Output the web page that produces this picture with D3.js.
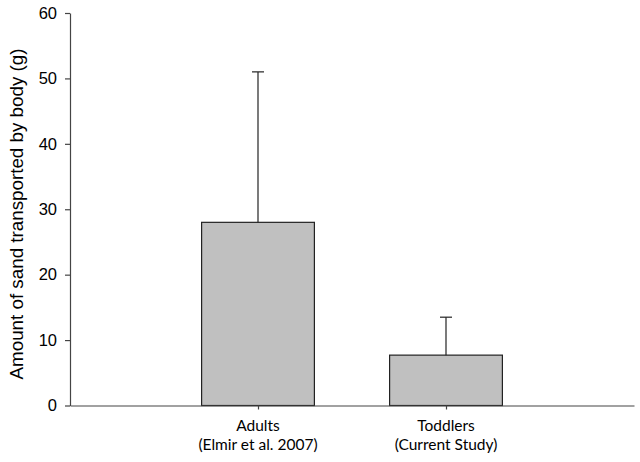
<!DOCTYPE html>
<head>
  <meta charset="utf-8">
  <script src="https://d3js.org/d3.v7.min.js"></script>
  <style>
    body { margin:0; background:#fff; }
    .tick text { font-family: "Liberation Sans", Arial, sans-serif; font-size:16.5px; fill:#000; }
    .cat { font-family: Lato, "Open Sans", sans-serif; font-size:15.5px; fill:#000; }
  </style>
</head>
<body>
<script>
  // data
  var groups = ["Adults", "Toddlers"];
  var subLabels = ["(Elmir et al. 2007)", "(Current Study)"];
  var means = [28, 7.7];
  var upperErr = [51, 13.5];
  var yTicks = [0, 10, 20, 30, 40, 50, 60];

  var W = 640, H = 462;
  var x0 = 70, x1 = 634, yTop = 13, yBot = 405.5;

  var svg = d3.select("body").append("svg")
    .attr("width", W)
    .attr("height", H);

  // point scale with empty slots at both ends, like the original plot
  var x = d3.scalePoint()
    .domain(["_l"].concat(groups, ["_r"]))
    .range([x0, x1]);
  var step = x.step();
  var barW = step * 0.6;

  var y = d3.scaleLinear()
    .domain([0, 60])
    .range([yBot, yTop]);

  // bars
  svg.selectAll(".bar").data(groups).enter()
    .append("rect")
    .attr("class", "bar")
    .attr("x", function(d) { return x(d) - barW / 2; })
    .attr("y", function(d, i) { return y(means[i]); })
    .attr("width", barW)
    .attr("height", function(d, i) { return y(0) - y(means[i]); })
    .attr("fill", "#c0c0c0")
    .attr("stroke", "#222")
    .attr("stroke-width", 1.2);

  // error bars (upper only)
  var eb = svg.selectAll(".err").data(groups).enter().append("g").attr("class", "err");
  eb.append("line")
    .attr("x1", function(d) { return x(d); })
    .attr("x2", function(d) { return x(d); })
    .attr("y1", function(d, i) { return y(means[i]); })
    .attr("y2", function(d, i) { return y(upperErr[i]); })
    .attr("stroke", "#222").attr("stroke-width", 1.2);
  eb.append("line")
    .attr("x1", function(d) { return x(d) - 6; })
    .attr("x2", function(d) { return x(d) + 6; })
    .attr("y1", function(d, i) { return y(upperErr[i]); })
    .attr("y2", function(d, i) { return y(upperErr[i]); })
    .attr("stroke", "#222").attr("stroke-width", 1.2);

  // y axis
  var yAxis = svg.append("g")
    .attr("transform", "translate(" + x0 + ",0)")
    .call(d3.axisLeft(y).tickValues(yTicks).tickSize(5).tickSizeOuter(0).tickPadding(8));
  yAxis.selectAll("line, path").attr("stroke", "#444").attr("stroke-width", 1.2);

  // x axis
  var xAxis = svg.append("g")
    .attr("transform", "translate(0," + yBot + ")")
    .call(d3.axisBottom(x).tickValues(groups).tickSize(4).tickSizeOuter(0).tickFormat(""));
  xAxis.selectAll("line, path").attr("stroke", "#444").attr("stroke-width", 1.2);

  // category labels, two lines each
  var cl = svg.selectAll(".cat").data(groups).enter()
    .append("text")
    .attr("class", "cat")
    .attr("text-anchor", "middle");
  cl.append("tspan")
    .attr("x", function(d) { return x(d); })
    .attr("y", 431)
    .text(function(d) { return d; });
  cl.append("tspan")
    .attr("x", function(d) { return x(d); })
    .attr("y", 450)
    .text(function(d, i) { return subLabels[i]; });

  // y title
  svg.append("text")
    .attr("transform", "translate(23,214) rotate(-90)")
    .attr("text-anchor", "middle")
    .attr("font-family", "Liberation Sans, Arial, sans-serif")
    .attr("font-size", 18.8)
    .text("Amount of sand transported by body (g)");
</script>
</body>
